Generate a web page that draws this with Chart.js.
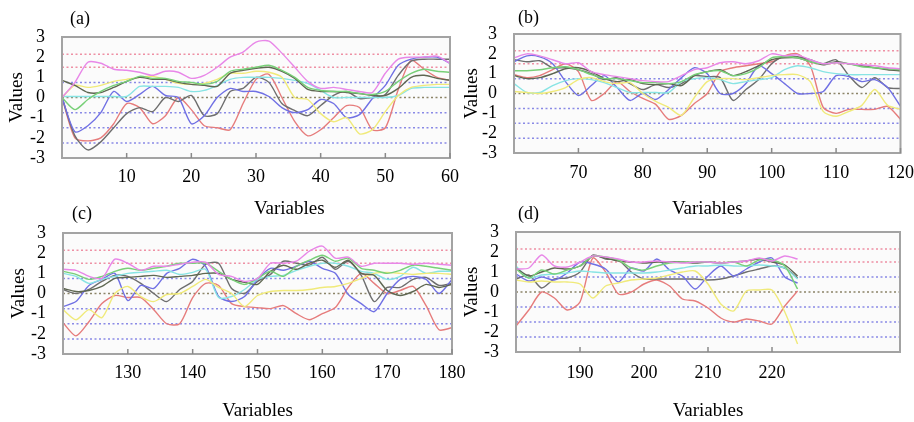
<!DOCTYPE html>
<html>
<head>
<meta charset="utf-8">
<script src="https://cdn.jsdelivr.net/npm/chart.js@4.4.0/dist/chart.umd.min.js"></script>
<style>
  body { margin: 0; background: #fff; width: 914px; height: 422px; overflow: hidden; position: relative; font-family: "Liberation Serif", serif; }
  .box { position: absolute; }
  .tag { position: absolute; font-size: 18px; line-height: 20px; color: #000; }
</style>
</head>
<body>
<div class="box" style="left:0;top:0;width:462px;height:220px"><canvas id="chart-a"></canvas></div>
<div class="box" style="left:457px;top:0;width:457px;height:220px"><canvas id="chart-b"></canvas></div>
<div class="box" style="left:0;top:196px;width:470px;height:226px"><canvas id="chart-c"></canvas></div>
<div class="box" style="left:457px;top:196px;width:457px;height:226px"><canvas id="chart-d"></canvas></div>
<div class="tag" style="left:70px;top:8px">(a)</div>
<div class="tag" style="left:518px;top:7px">(b)</div>
<div class="tag" style="left:72px;top:203px">(c)</div>
<div class="tag" style="left:518px;top:203px">(d)</div>
<script>
// variables on the x axis (every second one)
let x_a = [0, 2, 4, 6, 8, 10, 12, 14, 16, 18, 20, 22, 24, 26, 28, 30, 32, 34, 36, 38, 40, 42, 44, 46, 48, 50, 52, 54, 56, 58, 60]
let x_b = [60, 62, 64, 66, 68, 70, 72, 74, 76, 78, 80, 82, 84, 86, 88, 90, 92, 94, 96, 98, 100, 102, 104, 106, 108, 110, 112, 114, 116, 118, 120]
let x_c = [120, 122, 124, 126, 128, 130, 132, 134, 136, 138, 140, 142, 144, 146, 148, 150, 152, 154, 156, 158, 160, 162, 164, 166, 168, 170, 172, 174, 176, 178, 180]
let x_d = [180, 182, 184, 186, 188, 190, 192, 194, 196, 198, 200, 202, 204, 206, 208, 210, 212, 214, 216, 218, 220, 222, 224]

// panel (a)
let magenta_a = [0.0, 0.75, 1.75, 1.7, 1.4, 1.35, 1.25, 1.1, 1.3, 1.25, 0.95, 1.1, 1.5, 2.0, 2.25, 2.75, 2.8, 2.2, 1.5, 0.8, 0.45, 0.5, 0.4, 0.3, 0.25, 1.2, 1.9, 2.0, 2.0, 2.05, 1.7]
let green_a = [0.0, -0.6, -0.1, 0.3, 0.6, 0.8, 1.05, 0.95, 0.95, 0.8, 0.75, 0.65, 0.8, 1.3, 1.4, 1.5, 1.6, 1.35, 1.0, 0.5, 0.35, 0.3, 0.3, 0.2, 0.15, 0.3, 0.8, 1.2, 1.4, 1.3, 1.25]
let olive_a = [0.85, 0.6, 0.25, 0.25, 0.5, 0.8, 1.0, 0.9, 0.9, 0.75, 0.65, 0.6, 0.55, 1.2, 1.35, 1.45, 1.5, 1.3, 0.95, 0.4, 0.3, 0.3, 0.25, 0.2, 0.1, 0.1, 0.45, 1.0, 1.1, 0.95, 0.85]
let yellow_a = [0.0, 0.6, 0.5, 0.6, 0.8, 0.9, 1.0, 1.05, 0.9, 0.7, 0.65, 0.7, 0.9, 1.2, 1.2, 1.3, 1.25, 1.0, 0.0, -0.1, -0.8, -1.2, -1.0, -1.8, -1.6, -0.7, 0.1, 0.5, 0.6, 0.65, 0.65]
let cyan_a = [0.05, 0.05, 0.05, 0.05, 0.05, 0.05, 0.55, 0.55, 0.55, 0.5, 0.3, 0.35, 0.6, 0.9, 1.0, 1.0, 1.0, 0.95, 0.85, 0.7, 0.35, 0.0, 0.0, 0.0, 0.0, 0.0, 0.1, 0.45, 0.5, 0.5, 0.5]
let blue_a = [0.0, -1.7, -1.4, -0.75, 0.3, -0.2, 0.15, 0.55, 0.1, 0.0, -1.3, -0.9, 0.0, 0.45, 0.3, 0.3, 0.05, -0.5, -0.75, -0.6, -0.1, -0.3, -1.0, -0.85, -0.05, 0.6, 1.6, 1.9, 2.0, 2.0, 1.7]
let grey_a = [0.0, -1.9, -2.6, -2.2, -1.5, -0.8, -0.5, -0.7, 0.0, -0.2, 0.1, -0.9, -0.8, 0.3, 0.45, 1.0, 0.75, -0.3, -0.65, -0.9, -0.4, 0.1, 0.3, -0.05, 0.0, 0.15, 1.1, 1.8, 1.9, 1.9, 1.9]
let red_a = [0.0, -2.0, -2.15, -2.0, -1.3, -0.3, -0.5, -1.3, -0.9, 0.0, -0.6, -1.4, -1.5, -1.6, -0.3, 0.9, 1.15, 0.0, -1.2, -1.9, -1.6, -1.0, -0.4, -0.5, -1.6, -1.5, 0.4, 1.85, 1.4, 1.0, 0.85]

// panel (b)
let magenta_b = [1.8, 2.0, 1.9, 1.7, 1.5, 1.55, 1.1, 0.95, 0.85, 0.75, 0.65, 0.6, 0.6, 0.9, 1.2, 1.3, 1.55, 1.6, 1.5, 1.65, 2.0, 1.9, 1.95, 1.7, 1.5, 1.55, 1.5, 1.45, 1.4, 1.3, 1.25]
let green_b = [1.15, 1.15, 1.2, 1.3, 1.35, 1.2, 0.95, 0.75, 0.75, 0.65, 0.55, 0.55, 0.5, 0.6, 0.95, 1.1, 1.15, 0.9, 1.0, 1.3, 1.8, 1.85, 1.8, 1.6, 1.5, 1.55, 1.5, 1.35, 1.3, 1.25, 1.2]
let olive_b = [0.9, 0.75, 0.8, 1.0, 1.25, 1.3, 1.1, 0.75, 0.6, 0.7, 0.5, 0.45, 0.5, 0.4, 0.9, 1.1, 1.2, 0.9, 1.1, 1.4, 1.7, 1.8, 1.8, 1.6, 1.45, 1.6, 1.5, 1.4, 1.3, 1.2, 1.15]
let yellow_b = [0.1, 0.05, 0.0, 0.1, 0.3, 0.7, 0.8, 0.6, 0.5, 0.55, 0.0, -0.4, -0.7, -1.1, -0.2, 0.6, 0.75, 0.75, 0.7, 0.8, 0.9, 0.95, 0.95, 0.6, -0.9, -1.15, -0.9, -0.6, 0.2, -0.6, -0.8]
let cyan_b = [0.5, 0.05, 0.05, 0.4, 0.65, 0.75, 0.7, 0.55, 0.3, 0.05, 0.05, 0.05, 0.05, 0.6, 0.75, 0.8, 0.7, 0.5, 0.6, 0.7, 0.8, 1.2, 1.4, 1.3, 1.1, 1.0, 0.95, 0.95, 0.95, 0.95, 0.95]
let blue_b = [1.6, 1.9, 1.85, 1.5, 0.6, -0.1, 0.4, 0.9, 0.3, -0.35, 0.0, -0.3, 0.2, 0.8, 1.3, 1.0, 0.0, 0.0, 0.5, 1.4, 1.0, 0.5, 0.0, 0.0, 0.1, 0.9, 0.85, 0.6, 0.7, 0.3, -0.65]
let grey_b = [1.7, 1.6, 1.65, 1.3, 1.3, 1.2, 1.0, 0.7, 0.8, 0.5, 0.2, 0.45, 0.3, 0.5, 0.9, 0.85, 0.8, -0.35, 0.2, 0.7, 1.5, 1.9, 1.85, 1.7, 1.5, 1.7, 0.9, 0.3, 0.8, 0.3, 0.25]
let red_b = [0.95, 0.8, 0.9, 1.2, 1.5, 1.1, -0.35, 0.0, 0.6, 0.1, -0.25, -0.55, -1.3, -1.1, -0.5, 0.0, 1.1, 1.3, 1.4, 1.5, 1.6, 1.9, 2.0, 1.4, -0.7, -1.0, -0.8, -0.8, -0.8, -0.65, -1.3]

// panel (c)
let magenta_c = [1.2, 1.15, 0.85, 0.75, 1.7, 1.5, 1.15, 1.35, 1.35, 1.45, 1.55, 1.55, 0.95, 0.85, 0.6, 0.75, 1.5, 1.5, 1.6, 2.1, 2.35, 1.75, 1.8, 1.35, 1.5, 1.5, 1.5, 1.45, 1.5, 1.45, 1.4]
let green_c = [1.1, 0.95, 0.7, 0.85, 1.1, 1.25, 1.15, 1.25, 1.35, 1.5, 1.5, 1.5, 1.1, 0.7, 0.45, 0.75, 1.1, 0.85, 1.35, 1.65, 1.9, 1.6, 1.75, 1.25, 1.15, 1.0, 1.15, 1.4, 1.35, 1.25, 1.15]
let olive_c = [0.25, 0.1, 0.15, 0.35, 0.75, 0.8, 0.85, 0.9, 0.8, 0.85, 0.9, 1.0, 1.0, 0.7, 0.55, 0.45, 1.1, 1.4, 1.2, 1.5, 1.65, 1.3, 1.65, 1.0, 0.9, 0.15, -0.1, 0.1, 0.45, 0.3, 0.45]
let yellow_c = [-0.8, -1.3, -0.8, -1.2, 0.0, 0.35, -0.15, -0.4, -0.05, 0.0, 0.35, 0.7, 0.3, 0.0, -0.65, -0.1, 0.1, 0.15, 0.15, 0.2, 0.3, 0.35, 0.5, 0.75, 1.0, 1.05, 1.0, 0.95, 1.0, 1.0, 0.95]
let cyan_c = [1.0, 0.85, 0.5, 0.7, 0.85, 1.0, 1.05, 1.1, 1.15, 0.95, 1.05, 1.2, -0.2, -0.15, 0.2, 0.7, 0.85, 0.9, 1.15, 1.35, 1.5, 1.5, 1.35, 1.1, 1.0, 0.7, 0.85, 1.3, 1.0, 1.1, 1.1]
let blue_c = [-0.65, -0.4, 0.4, 0.7, 1.0, -0.35, 0.4, 0.25, 1.0, 1.25, 1.7, 1.35, -0.15, -0.4, -0.15, 0.7, 1.25, 1.15, 1.35, 1.6, 1.25, 1.0, -0.05, -0.5, -0.9, 0.0, 0.7, 0.85, 0.7, 0.0, 0.7]
let grey_c = [0.2, 0.0, 0.2, 0.6, 0.9, 0.85, 0.5, 0.0, -0.4, 0.2, 0.6, 1.45, 1.5, 0.25, 0.0, 0.6, 0.95, 1.6, 1.5, 1.4, 1.8, 1.2, 1.6, 0.9, -0.4, 0.3, 0.3, 0.7, 0.8, 0.4, 0.5]
let red_c = [-1.45, -2.1, -1.4, -0.5, -0.1, -0.2, -0.2, -0.8, -1.5, -1.5, -0.2, 0.5, 0.4, -0.5, -0.65, -0.7, -0.75, -0.6, -1.0, -1.3, -1.0, -0.7, 0.3, 1.0, 0.5, 0.0, 0.15, 0.35, -0.6, -1.8, -1.7]

// panel (d)
let magenta_d = [1.15, 1.2, 1.85, 1.3, 1.25, 1.5, 1.8, 1.75, 1.65, 1.5, 1.5, 1.55, 1.5, 1.45, 1.5, 1.5, 1.45, 1.5, 1.55, 1.7, 1.55, 1.8, 1.65]
let green_d = [1.15, 0.7, 1.1, 0.9, 1.1, 1.3, 1.8, 1.75, 1.6, 1.2, 1.1, 1.3, 1.45, 1.5, 1.5, 1.5, 1.45, 1.5, 1.3, 1.6, 1.6, 1.3, 0.15]
let olive_d = [1.2, 0.8, 1.0, 1.2, 1.15, 1.3, 1.8, 1.7, 1.55, 1.5, 1.45, 1.5, 1.5, 1.5, 1.45, 1.5, 1.45, 1.5, 1.55, 1.65, 1.5, 1.35, 0.8]
let yellow_d = [0.6, 0.5, 0.55, 0.5, 0.5, 0.4, -0.3, 0.3, 0.45, 0.6, 0.65, 0.7, 0.85, 1.0, 1.05, 0.4, -0.6, -0.95, 0.05, 0.1, 0.1, -1.0, -2.6]
let cyan_d = [1.3, 0.7, 0.85, 0.9, 0.95, 1.05, 1.0, 0.95, 0.95, 0.95, 0.95, 1.0, 1.1, 1.2, 1.3, 1.3, 1.35, 1.3, 1.3, 1.35, 1.3, 1.2, 0.65]
let blue_d = [0.9, 0.55, 0.75, 0.6, 0.95, 1.5, 1.4, 1.15, 0.5, 1.2, 1.05, 1.65, 1.1, 0.8, 0.15, 0.8, 1.3, 0.8, 1.15, 1.5, 1.7, 0.75, 0.45]
let grey_d = [0.65, 0.85, 0.2, 0.65, 0.7, 1.0, 1.85, 1.65, 1.6, 1.0, 0.65, 0.65, 0.65, 0.65, 0.65, 0.6, 0.65, 0.8, 1.0, 1.15, 1.3, 1.2, 0.7]
let red_d = [-1.7, -0.9, 0.0, -0.3, -0.9, -0.5, 1.7, 1.0, -0.1, 0.0, 0.4, 0.6, 0.3, -0.35, -0.45, -0.8, -1.3, -1.5, -1.35, -1.45, -1.6, -0.7, 0.05]

// dotted reference levels
let ref_levels = [2.15, 1.5, 0.75, 0, -0.75, -1.5, -2.25]
let y_ticks = [-3, -2, -1, 0, 1, 2, 3]

let series_colors = ['#e887e8', '#78d078', '#5f6752', '#f0ea7a', '#88e4e4', '#7070e4', '#6e6e6e', '#e67c7c']
let ref_colors = ['#ee90a4', '#ee90a4', '#8a8ae6', '#8c8468', '#8a8ae6', '#8a8ae6', '#8a8ae6']
let font_family = '"Liberation Serif", "Times New Roman", serif'


let frame_plugin = {
  id: 'frame',
  beforeDraw(chart) {
    let {ctx, chartArea: a} = chart
    ctx.save()
    ctx.fillStyle = '#fbfbfb'
    ctx.fillRect(a.left, a.top, a.right - a.left, a.bottom - a.top)
    ctx.restore()
  },
  afterDraw(chart) {
    let {ctx, chartArea: a} = chart
    let sx = chart.scales.x
    ctx.save()
    ctx.strokeStyle = '#a3a3a3'
    ctx.lineWidth = 2
    ctx.strokeRect(a.left, a.top, a.right - a.left, a.bottom - a.top)
    // small inward tick marks on the bottom border
    ctx.strokeStyle = '#8a8a8a'
    ctx.lineWidth = 1.5
    sx.ticks.forEach(t => {
      if (t.label === '' || t.label === undefined) return
      let px = sx.getPixelForValue(t.value)
      ctx.beginPath()
      ctx.moveTo(px, a.bottom)
      ctx.lineTo(px, a.bottom - 5)
      ctx.stroke()
    })
    ctx.restore()
  }
}


function make_panel(canvas_id, xs, series, x_min, x_max, last_label, p) {
  let datasets = []
  series.forEach((s, i) => {
    datasets.push({
      data: xs.map((x, k) => ({x: x, y: s[k]})),
      borderColor: series_colors[i],
      borderWidth: 1.4,
      pointRadius: 0,
      tension: 0.25,
      order: 0
    })
  })
  ref_levels.forEach((v, i) => {
    datasets.push({
      data: [{x: x_min, y: v}, {x: x_max, y: v}],
      borderColor: ref_colors[i],
      borderWidth: 1.5,
      borderDash: [2, 2.5],
      pointRadius: 0,
      order: 1
    })
  })

  return new Chart(document.getElementById(canvas_id), {
    type: 'line',
    data: {datasets: datasets},
    plugins: [frame_plugin],
    options: {
      responsive: true,
      maintainAspectRatio: false,
      animation: false,
      events: [],
      layout: {padding: {left: 0, top: p.top, right: p.right, bottom: 0}},
      plugins: {legend: {display: false}, tooltip: {enabled: false}},
      scales: {
        x: {
          type: 'linear',
          min: x_min,
          max: x_max,
          // invisible tick marks give the gap below the frame, so the last label does not squeeze the plot
          grid: {display: true, drawOnChartArea: false, drawTicks: true, tickLength: p.tick_pad, color: 'rgba(0,0,0,0)'},
          border: {display: false},
          ticks: {
            stepSize: 10,
            autoSkip: false,
            maxRotation: 0,
            padding: 0,
            color: '#000',
            font: {family: font_family, size: 18},
            callback: v => (v === x_min || v > last_label) ? '' : String(v)
          },
          title: {display: true, text: p.x_title, color: '#000', font: {family: font_family, size: 19}, padding: {top: 0, bottom: 0}},
          afterFit: s => { s.height = p.x_height }
        },
        y: {
          min: -3,
          max: 3,
          grid: {display: false},
          border: {display: false},
          afterBuildTicks: s => { s.ticks = y_ticks.map(v => ({value: v})) },
          ticks: {autoSkip: false, padding: 9, color: '#000', font: {family: font_family, size: 18}},
          title: {display: true, text: 'Values', color: '#000', font: {family: font_family, size: 19}, padding: {top: p.title_left, bottom: 0}},
          afterFit: s => { s.width = p.y_width }
        }
      }
    }
  })
}

// the (a) axis title sits right of centre in the figure, padded with spaces
let chart_a = make_panel('chart-a', x_a,
  [magenta_a, green_a, olive_a, yellow_a, cyan_a, blue_a, grey_a, red_a], 0, 60, 60,
  {top: 37, right: 12, x_height: 62, y_width: 62, tick_pad: 8, title_left: 6, x_title: '              Variables'})

let chart_b = make_panel('chart-b', x_b,
  [magenta_b, green_b, olive_b, yellow_b, cyan_b, blue_b, grey_b, red_b], 60, 120, 120,
  {top: 34, right: 13, x_height: 67, y_width: 57, tick_pad: 9, title_left: 4, x_title: 'Variables'})

let chart_c = make_panel('chart-c', x_c,
  [magenta_c, green_c, olive_c, yellow_c, cyan_c, blue_c, grey_c, red_c], 120, 180, 180,
  {top: 37, right: 18, x_height: 68, y_width: 63, tick_pad: 8, title_left: 8, x_title: 'Variables'})

let chart_d = make_panel('chart-d', x_d,
  [magenta_d, green_d, olive_d, yellow_d, cyan_d, blue_d, grey_d, red_d], 180, 240, 220,
  {top: 36, right: 14, x_height: 70, y_width: 59, tick_pad: 10, title_left: 4, x_title: 'Variables'})
</script>
</body>
</html>
